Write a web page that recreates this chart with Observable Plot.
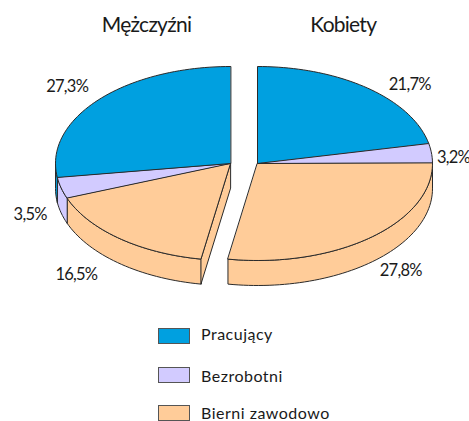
<!DOCTYPE html>
<html><head><meta charset="utf-8">
<script src="https://cdn.jsdelivr.net/npm/d3@7"></script>
<script src="https://cdn.jsdelivr.net/npm/@observablehq/plot@0.6"></script>
<style>
html,body{margin:0;padding:0;background:#fff;overflow:hidden}
#chart{width:469px;height:421px;position:relative;font-family:Lato,sans-serif;color:#1a1a1a}
#chart svg{display:block;background:#fff}
#chart svg text{letter-spacing:-.75px}
.leg{position:absolute;left:158px;height:15px;display:flex;align-items:center}
.sw{width:30px;height:14px;border:1px solid #555;box-sizing:content-box;margin-right:11px}
.lb{font-size:16px;letter-spacing:.5px;white-space:nowrap;line-height:15px;position:relative}
</style></head><body><div id="chart"></div>
<script>
const categories = ["Pracujący", "Bezrobotni", "Bierni zawodowo"];
const colors = ["#00A0E0", "#D2CBFF", "#FFCC99"];
const men = [27.3, 3.5, 16.5];
const women = [21.7, 3.2, 27.8];
const groups = ["Mężczyźni", "Kobiety"];

const W = 469, H = 320;
const midX = 243.5, midY = 163, rx = 175, ry = 97;
const gap = 13.5 / rx, depth = 25 / ry;
const nudge = {
  "Mężczyźni": [[-31, -13], [-31, 2], [-43, 11]],
  "Kobiety": [[42, -3], [22, 5], [30, 8]]
};

// Slices clockwise from 12 o'clock: women in legend order, then men in reverse.
const rad = p => p * 3.6 * Math.PI / 180;
const pt = (cx, a, dz = 0) => ({x: cx + Math.sin(a), y: -Math.cos(a) + dz});
const arc = (cx, a0, a1, dz = 0) => {
  const n = Math.max(2, Math.ceil((a1 - a0) / 0.03));
  return d3.range(n + 1).map(i => pt(cx, a0 + (a1 - a0) * i / n, dz));
};

const slices = [];
let acc = 0;
const pushSlice = (g, vals, cx, i) => {
  slices.push({group: g, cat: categories[i], i, v: vals[i], cx, a0: rad(acc), a1: rad(acc + vals[i])});
  acc += vals[i];
};
[0, 1, 2].forEach(i => pushSlice("Kobiety", women, gap, i));
[2, 1, 0].forEach(i => pushSlice("Mężczyźni", men, -gap, i));

const polys = [];
const add = (id, cat, pts) => pts.forEach(p => polys.push({id, cat, x: p.x, y: p.y}));
// walls
const zero = Math.PI / 2, back = 3 * Math.PI / 2;
slices.forEach((s, k) => {
  const a = Math.max(s.a0, zero), b = Math.min(s.a1, back);
  if (b > a) add("w" + k, s.cat, [...arc(s.cx, a, b), ...arc(s.cx, a, b, depth).reverse()]);
});
// cut wall of the left half
const cut = slices.find(s => s.group === "Mężczyźni");
add("cut", cut.cat, [{x: cut.cx, y: 0}, pt(cut.cx, cut.a0), pt(cut.cx, cut.a0, depth), {x: cut.cx, y: depth}]);
// tops
slices.forEach((s, k) => add("t" + k, s.cat, [{x: s.cx, y: 0}, ...arc(s.cx, s.a0, s.a1)]));

const fmt = v => v.toFixed(1).replace(".", ",") + "%";
const labels = slices.map(s => {
  const m = (s.a0 + s.a1) / 2, p = pt(s.cx, m, Math.cos(m) < 0 ? depth : 0);
  const [dx, dy] = nudge[s.group][s.i];
  return {...p, t: fmt(s.v), dx, dy};
});
const titles = [
  {x: -gap - 0.48, y: -1.425, t: groups[0]},
  {x: gap + 0.49, y: -1.425, t: groups[1]}
];

const plot = Plot.plot({
  width: W, height: H, margin: 0,
  style: {fontFamily: "Lato, sans-serif", color: "#1a1a1a", background: "#fff"},
  x: {domain: [-midX / rx, (W - midX) / rx], range: [0, W], axis: null},
  y: {domain: [-midY / ry, (H - midY) / ry], range: [0, H], axis: null},
  color: {domain: categories, range: colors},
  marks: [
    Plot.line(polys, {x: "x", y: "y", z: "id", fill: "cat", stroke: "#2a2a2a", strokeWidth: 1,
      curve: "linear-closed", strokeLinejoin: "round"}),
    ...labels.map(l => Plot.text([l], {x: "x", y: "y", text: "t", dx: l.dx, dy: l.dy, fontSize: 16.5, fill: "#1a1a1a"})),
    Plot.text(titles, {x: "x", y: "y", text: "t", fontSize: 21, fill: "#1a1a1a"})
  ]
});
const root = document.getElementById("chart");
root.appendChild(plot);
const tops = [328.5, 367.5, 405.5];
const textShift = [-3, 0, -1];
categories.forEach((c, i) => {
  const d = document.createElement("div");
  d.className = "leg";
  d.style.top = tops[i] + "px";
  const s = document.createElement("div");
  s.className = "sw";
  s.style.background = colors[i];
  const t = document.createElement("div");
  t.className = "lb";
  t.style.top = textShift[i] + "px";
  t.textContent = c;
  d.append(s, t);
  root.appendChild(d);
});
</script></body></html>
